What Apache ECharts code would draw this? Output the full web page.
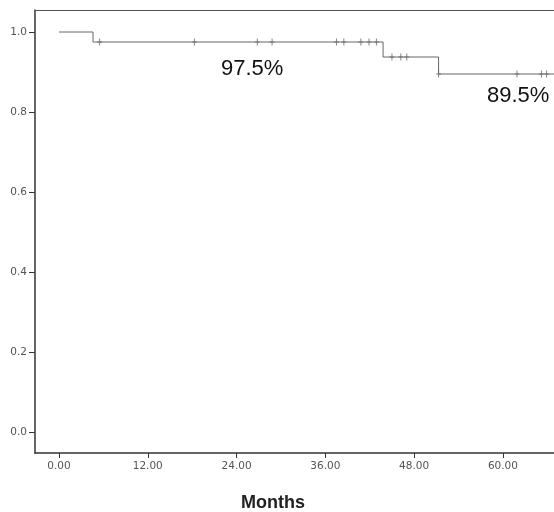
<!DOCTYPE html>
<html>
<head>
<meta charset="utf-8">
<script src="https://cdn.jsdelivr.net/npm/echarts@6/dist/echarts.min.js"></script>
<style>
  html, body { margin: 0; padding: 0; background: #fff; }
  #chart { width: 554px; height: 512px; }
</style>
</head>
<body>
<div id="chart"></div>
<script>
// survival curve steps (months, cumulative survival)
const stepMonths = [0, 4.6, 43.8, 51.3, 66.9]
const stepSurvival = [1.0, 0.975, 0.9375, 0.895, 0.895]

// censored cases
const censorMonths = [5.5, 18.3, 26.8, 28.8, 37.5, 38.5, 40.8, 41.9, 42.9, 45.0, 46.2, 47.0, 51.3, 61.9, 65.2, 65.9]
const censorSurvival = [0.975, 0.975, 0.975, 0.975, 0.975, 0.975, 0.975, 0.975, 0.975, 0.9375, 0.9375, 0.9375, 0.895, 0.895, 0.895, 0.895]

const xTicks = [0, 12, 24, 36, 48, 60]
const yTicks = [0, 0.2, 0.4, 0.6, 0.8, 1.0]
const notes = ['97.5%', '89.5%']

const chart = echarts.init(document.getElementById('chart'))

const stepData = stepMonths.map((m, i) => [m, stepSurvival[i]])
const censorData = censorMonths.map((m, i) => [m, censorSurvival[i]])

const axisColor = '#333'
const labelStyle = { color: '#555', fontSize: 10.5, fontFamily: 'DejaVu Sans' }

chart.setOption({
  animation: false,
  backgroundColor: '#fff',
  grid: { left: 35, right: 0, top: 10, bottom: 59 },
  xAxis: [
    {
      type: 'value',
      min: -3.24,
      max: 66.9,
      splitLine: { show: false },
      axisLine: { show: true, onZero: false, lineStyle: { color: axisColor, width: 1.5 } },
      axisTick: { show: true, length: 5, customValues: xTicks, lineStyle: { color: axisColor } },
      axisLabel: {
        ...labelStyle,
        margin: 8,
        customValues: xTicks,
        formatter: v => v.toFixed(2)
      }
    },
    {
      type: 'value',
      position: 'top',
      min: -3.24,
      max: 66.9,
      splitLine: { show: false },
      axisLine: { show: true, onZero: false, lineStyle: { color: '#555', width: 1.2 } },
      axisTick: { show: false },
      axisLabel: { show: false }
    }
  ],
  yAxis: {
    type: 'value',
    min: -0.0525,
    max: 1.055,
    splitLine: { show: false },
    axisLine: { show: true, onZero: false, lineStyle: { color: axisColor, width: 1.5 } },
    axisTick: { show: true, length: 6, customValues: yTicks, lineStyle: { color: axisColor } },
    axisLabel: {
      ...labelStyle,
      margin: 8,
      customValues: yTicks,
      formatter: v => v.toFixed(1)
    }
  },
  series: [
    {
      type: 'line',
      step: 'end',
      data: stepData,
      showSymbol: false,
      lineStyle: { color: '#666', width: 1 },
      z: 2
    },
    {
      type: 'scatter',
      data: censorData,
      symbol: 'path://M2,0h1v7h-1zM0,3h5v1h-5z',
      symbolSize: [5, 7],
      itemStyle: { color: '#666' },
      z: 3
    }
  ],
  graphic: [
    {
      type: 'text', left: 221, top: 58,
      style: { text: notes[0], fontSize: 22, fontFamily: 'Liberation Sans', fill: '#111' }
    },
    {
      type: 'text', left: 487, top: 85,
      style: { text: notes[1], fontSize: 22, fontFamily: 'Liberation Sans', fill: '#111' }
    },
    {
      type: 'text', left: 241, top: 494,
      style: { text: 'Months', fontSize: 18, fontWeight: 'bold', fontFamily: 'Liberation Sans', fill: '#222' }
    }
  ]
})
</script>
</body>
</html>
